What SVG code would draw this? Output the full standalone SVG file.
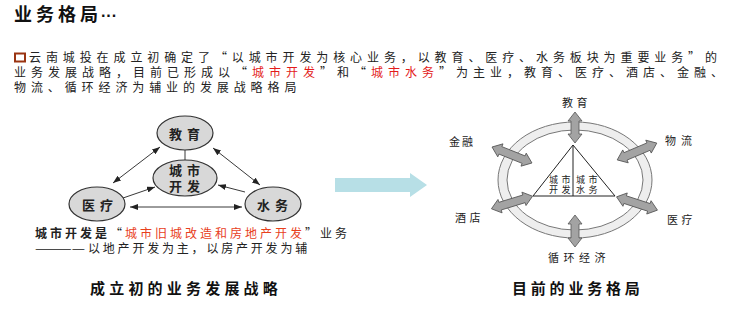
<svg xmlns="http://www.w3.org/2000/svg" width="729" height="319" viewBox="0 0 729 319">
<style>
text{font-family:"Noto Sans CJK SC","Noto Sans CJK JP",sans-serif;fill:#222}
.p{font-size:12px;letter-spacing:4.9px}
.red{fill:#e31b1b}
.node{fill:#d8d8d8;stroke:#333;stroke-width:1.2}
.nt{font-size:13px;font-weight:bold;letter-spacing:5px}
.cn{stroke:#222;stroke-width:0.9;fill:none}
.ba{fill:#a3a3a3;stroke:#555;stroke-width:0.8}
.lb{font-size:11px;letter-spacing:3.5px}
.tt{font-size:9px;letter-spacing:3.5px}
.cap{font-size:15px;font-weight:bold;letter-spacing:4.2px;fill:#111}
</style>
<defs>
<marker id="ah" viewBox="0 0 8 6" refX="8" refY="3" markerWidth="8" markerHeight="6" markerUnits="userSpaceOnUse" orient="auto-start-reverse">
<path d="M0,0L8,3L0,6z" fill="#222"/>
</marker>
</defs>
<rect width="729" height="319" fill="#fff"/>
<g id="title">
<text x="14" y="21" style="font-size:18px;font-weight:bold;letter-spacing:4px;fill:#111">业务格局</text>
<text x="101" y="21" style="font-family:'Liberation Sans',sans-serif;font-size:16px;font-weight:bold;fill:#111">···</text>
</g>
<g id="intro">
<rect x="15" y="53.5" width="10" height="8" fill="#fff" stroke="#9a3412" stroke-width="2"/>
<text class="p" x="29" y="62">云南城投在成立初确定了“以城市开发为核心业务，以教育、医疗、水务板块为重要业务”的</text>
<text class="p" x="14" y="77" style="letter-spacing:5px">业务发展战略，目前已形成以“<tspan class="red">城市开发</tspan>”和“<tspan class="red">城市水务</tspan>”为主业，教育、医疗、酒店、金融、</text>
<text class="p" x="14" y="92">物流、循环经济为辅业的发展战略格局</text>
</g>
<g id="connectors-left">
<line class="cn" x1="185" y1="150" x2="185" y2="160"/>
<line class="cn" x1="160" y1="147" x2="113" y2="183" marker-start="url(#ah)" marker-end="url(#ah)"/>
<line class="cn" x1="213" y1="148" x2="260" y2="185" marker-start="url(#ah)" marker-end="url(#ah)"/>
<line class="cn" x1="123" y1="198" x2="155" y2="187" marker-end="url(#ah)"/>
<line class="cn" x1="245" y1="192" x2="218" y2="185" marker-end="url(#ah)"/>
<line class="cn" x1="130" y1="207" x2="242" y2="207" marker-start="url(#ah)" marker-end="url(#ah)"/>
</g>
<g id="n-jiaoyu">
<ellipse class="node" cx="185" cy="133" rx="28" ry="17"/>
<text class="nt" x="169" y="139">教育</text>
</g>
<g id="n-chengshi">
<ellipse class="node" cx="185" cy="178" rx="32" ry="18"/>
<text class="nt" x="169" y="175">城市</text>
<text class="nt" x="169" y="191">开发</text>
</g>
<g id="n-yiliao">
<ellipse class="node" cx="97" cy="204" rx="28" ry="17"/>
<text class="nt" x="82" y="210">医疗</text>
</g>
<g id="n-shuiwu">
<ellipse class="node" cx="273" cy="204" rx="28" ry="17"/>
<text class="nt" x="257" y="210">水务</text>
</g>
<g id="left-notes">
<text x="35" y="238" style="font-size:12px;letter-spacing:3px"><tspan font-weight="bold">城市开发是</tspan>“<tspan style="fill:#e8401c">城市旧城改造和房地产开发</tspan>”业务</text>
<text x="35" y="253" style="font-size:12px" textLength="50" lengthAdjust="spacingAndGlyphs">————</text>
<text x="88" y="253" style="font-size:12px;letter-spacing:2.8px">以地产开发为主，以房产开发为辅</text>
<text class="cap" x="90" y="294">成立初的业务发展战略</text>
</g>
<g id="mid-arrow">
<polygon points="335,178 410,178 410,173 427,185 410,197 410,192 335,192" fill="#b7dfe6"/>
</g>
<g id="ring">
<path d="M498,180a77,58 0 1,0 154,0a77,58 0 1,0 -154,0zM507,180a68,50 0 1,0 136,0a68,50 0 1,0 -136,0z" fill="#eeeeee" fill-rule="evenodd" stroke="#777" stroke-width="1"/>
</g>
<g id="core">
<polygon points="573,145 533,196 615,196" fill="#fff" stroke="#222" stroke-width="1"/>
<line x1="573" y1="145" x2="573" y2="196" stroke="#222" stroke-width="1"/>
<text class="tt" x="549" y="183">城市</text>
<text class="tt" x="549" y="193">开发</text>
<text class="tt" x="576" y="183">城市</text>
<text class="tt" x="576" y="193">水务</text>
</g>
<g id="block-arrows">
<polygon class="ba" transform="translate(575,127.5) rotate(90)" points="-15.5,0 -6.5,-7 -6.5,-4 6.5,-4 6.5,-7 15.5,0 6.5,7 6.5,4 -6.5,4 -6.5,7"/>
<polygon class="ba" transform="translate(575,231) rotate(90)" points="-16,0 -7,-7 -7,-4 7,-4 7,-7 16,0 7,7 7,4 -7,4 -7,7"/>
<polygon class="ba" transform="translate(512,155) rotate(21.8)" points="-21.5,0 -12.5,-7 -12.5,-4 12.5,-4 12.5,-7 21.5,0 12.5,7 12.5,4 -12.5,4 -12.5,7"/>
<polygon class="ba" transform="translate(637,151.5) rotate(-23)" points="-21.5,0 -12.5,-7 -12.5,-4 12.5,-4 12.5,-7 21.5,0 12.5,7 12.5,4 -12.5,4 -12.5,7"/>
<polygon class="ba" transform="translate(512,202.5) rotate(-17)" points="-21.5,0 -12.5,-7 -12.5,-4 12.5,-4 12.5,-7 21.5,0 12.5,7 12.5,4 -12.5,4 -12.5,7"/>
<polygon class="ba" transform="translate(637,203.5) rotate(18)" points="-21.5,0 -12.5,-7 -12.5,-4 12.5,-4 12.5,-7 21.5,0 12.5,7 12.5,4 -12.5,4 -12.5,7"/>
</g>
<g id="right-labels">
<text class="lb" x="562" y="107">教育</text>
<text class="lb" x="449" y="146" style="letter-spacing:2px">金融</text>
<text class="lb" x="665" y="145" style="letter-spacing:5px">物流</text>
<text class="lb" x="455" y="222">酒店</text>
<text class="lb" x="667" y="224">医疗</text>
<text class="lb" x="548" y="262" style="letter-spacing:4.5px">循环经济</text>
<text class="cap" x="512" y="294" style="letter-spacing:3.8px">目前的业务格局</text>
</g>
</svg>
